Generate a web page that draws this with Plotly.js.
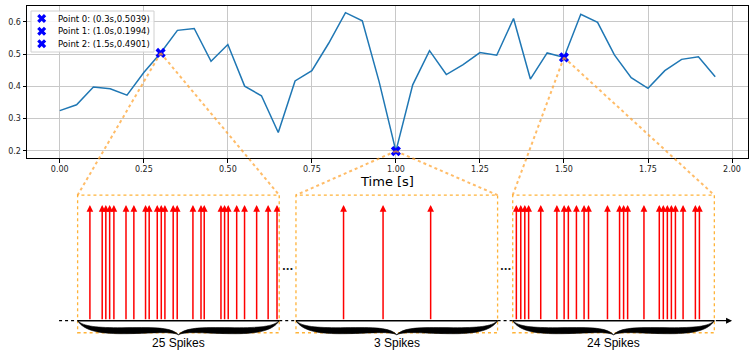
<!DOCTYPE html>
<html>
<head>
<meta charset="utf-8">
<script src="https://cdn.plot.ly/plotly-3.0.1.min.js"></script>
<style>
  html, body { margin: 0; padding: 0; background: white; }
  #chart { width: 753px; height: 356px; }
</style>
</head>
<body>
<div id="chart"></div>
<script>
// signal samples (time in s)
const times = [0.00, 0.05, 0.10, 0.15, 0.20, 0.25, 0.30, 0.35, 0.40, 0.45,
               0.50, 0.55, 0.60, 0.65, 0.70, 0.75, 0.80, 0.85, 0.90, 0.95,
               1.00, 1.05, 1.10, 1.15, 1.20, 1.25, 1.30, 1.35, 1.40, 1.45,
               1.50, 1.55, 1.60, 1.65, 1.70, 1.75, 1.80, 1.85, 1.90, 1.95];
const values = [0.325, 0.343, 0.398, 0.393, 0.373, 0.443, 0.5039, 0.574, 0.580, 0.478,
                0.530, 0.401, 0.371, 0.257, 0.417, 0.449, 0.534, 0.629, 0.604, 0.415,
                0.1994, 0.405, 0.511, 0.437, 0.468, 0.505, 0.497, 0.611, 0.423, 0.504,
                0.4901, 0.624, 0.599, 0.498, 0.427, 0.394, 0.449, 0.484, 0.492, 0.430];

// highlighted points
const pointTimes = [0.3, 1.0, 1.5];
const pointValues = [0.5039, 0.1994, 0.4901];

// spike trains in each window (ms within a 100 ms window)
const spikes0 = [6.1, 12.2, 14.0, 15.9, 18.0, 24.0, 27.9, 33.7, 35.5, 39.5, 41.5, 43.3, 47.4,
                 49.4, 57.2, 61.2, 62.8, 71.1, 72.9, 74.7, 78.9, 82.8, 88.8, 94.5, 98.9];
const spikes1 = [23.6, 43.2, 66.8];
const spikes2 = [1.8, 4.0, 6.0, 7.9, 13.9, 21.9, 25.5, 27.6, 31.6, 35.4, 37.6, 47.0,
                 53.0, 55.0, 57.0, 65.1, 72.7, 74.7, 76.7, 78.7, 80.7, 84.5, 90.6, 92.6];
const spikeTrains = [spikes0, spikes1, spikes2];
const braceLabels = ['25 Spikes', '3 Spikes', '24 Spikes'];

// layout of the zoomed windows on the lower axis
const windowStarts = [0, 108.3, 215.8];
const windowWidth = 100;

const FONT = 'DejaVu Sans, sans-serif';
const xRange = [-0.0975, 2.0475];
const yRange = [0.178, 0.6496];
const x2Range = [-25.1, 332.5];
const y2Range = [-0.305, 1.406];
const topDomain = [0.5657, 1];
const botDomain = [0, 0.5657];
const PXY = 115.7; // pixels per unit on lower y axis

function toPaperX(v, r) { return (v - r[0]) / (r[1] - r[0]); }
function toPaperY(v, r, d) { return d[0] + (v - r[0]) / (r[1] - r[0]) * (d[1] - d[0]); }
// pixel offsets inside the top plot area -> top axis data units
function pxToX(p) { return xRange[0] + p / 721 * (xRange[1] - xRange[0]); }
function pxToY(p) { return yRange[1] - p / 152 * (yRange[1] - yRange[0]); }

const boxTop = 1.085, boxBottom = -0.104;
const orange = '#ffb338';

let shapes = [];
let annotations = [];

// spikes as arrows
spikeTrains.forEach((train, w) => {
  train.forEach(t => {
    const xv = windowStarts[w] + t;
    annotations.push({
      x: xv, y: 1, ax: xv, ay: 0,
      xref: 'x2', yref: 'y2', axref: 'x2', ayref: 'y2',
      text: '', showarrow: true, arrowhead: 2, arrowsize: 0.9,
      arrowwidth: 1.5, arrowcolor: '#ff0000', standoff: 0, startstandoff: 0
    });
  });
});

// curly brace as a filled path
function bracePath(x0, x1) {
  const w = x1 - x0;
  const P = (f, d) => (x0 + f * w).toFixed(3) + ',' + (-d / PXY).toFixed(4);
  return 'M' + P(0, 0) +
    ' C' + P(0.03, 6) + ' ' + P(0.1, 7) + ' ' + P(0.22, 7) +
    ' C' + P(0.36, 7) + ' ' + P(0.46, 5.5) + ' ' + P(0.5, 14) +
    ' C' + P(0.54, 5.5) + ' ' + P(0.64, 7) + ' ' + P(0.78, 7) +
    ' C' + P(0.9, 7) + ' ' + P(0.97, 6) + ' ' + P(1, 0) +
    ' C' + P(0.97, 9.5) + ' ' + P(0.9, 13) + ' ' + P(0.78, 13) +
    ' C' + P(0.64, 13) + ' ' + P(0.54, 10) + ' ' + P(0.5, 14) +
    ' C' + P(0.46, 10) + ' ' + P(0.36, 13) + ' ' + P(0.22, 13) +
    ' C' + P(0.1, 13) + ' ' + P(0.03, 9.5) + ' ' + P(0, 0) + ' Z';
}

windowStarts.forEach((s, w) => {
  const e = s + windowWidth;
  shapes.push({
    type: 'rect', xref: 'x2', yref: 'y2', x0: s, x1: e, y0: boxBottom, y1: boxTop,
    line: { color: orange, width: 1.3, dash: 'dot' }, fillcolor: 'rgba(0,0,0,0)'
  });
  shapes.push({
    type: 'line', xref: 'x2', yref: 'y2', x0: s, x1: e, y0: 0, y1: 0,
    line: { color: '#000', width: 1.5 }
  });
  shapes.push({
    type: 'path', xref: 'x2', yref: 'y2', path: bracePath(s, e),
    fillcolor: '#000', line: { color: '#000', width: 0.6 }
  });
  annotations.push({
    x: s + windowWidth / 2, y: -0.19, xref: 'x2', yref: 'y2',
    text: braceLabels[w], showarrow: false,
    font: { family: 'Liberation Sans, Arial, sans-serif', size: 12, color: '#000' }
  });
  // connector lines from the highlighted point to the window corners
  const px = toPaperX(pointTimes[w], xRange);
  const py = toPaperY(pointValues[w], yRange, topDomain);
  const by = toPaperY(boxTop, y2Range, botDomain);
  [s, e].forEach(cx => {
    shapes.push({
      type: 'line', xref: 'paper', yref: 'paper',
      x0: px, y0: py, x1: toPaperX(cx, x2Range), y1: by,
      line: { color: 'rgba(255,160,40,0.7)', width: 2, dash: 'dot' }
    });
  });
});

// dotted baseline gaps
const gaps = [[-9.2, windowStarts[0]],
              [windowStarts[0] + windowWidth, windowStarts[1]],
              [windowStarts[1] + windowWidth, windowStarts[2]]];
gaps.forEach(g => {
  shapes.push({
    type: 'line', xref: 'x2', yref: 'y2', x0: g[0], x1: g[1], y0: 0, y1: 0,
    line: { color: '#000', width: 1.2, dash: 'dot' }
  });
  if (g[0] > 0) {
    annotations.push({
      x: (g[0] + g[1]) / 2, y: 0.44, xref: 'x2', yref: 'y2', text: '<b>···</b>',
      showarrow: false, font: { family: FONT, size: 10, color: '#222' }
    });
  }
});

// time arrow on the right
annotations.push({
  x: 324.6, y: 0, ax: windowStarts[2] + windowWidth, ay: 0,
  xref: 'x2', yref: 'y2', axref: 'x2', ayref: 'y2',
  text: '', showarrow: true, arrowhead: 2, arrowsize: 1,
  arrowwidth: 1.2, arrowcolor: '#000', standoff: 0
});

// legend (drawn by hand for compact spacing)
const legendNames = pointTimes.map((t, i) =>
  'Point ' + i + ': (' + t.toFixed(1) + 's,' + pointValues[i].toFixed(4) + ')');
const legendRowY = [12.5, 25.2, 37.7];
shapes.push({
  type: 'rect', xref: 'x', yref: 'y', layer: 'between',
  x0: pxToX(4), x1: pxToX(127), y0: pxToY(46), y1: pxToY(5),
  fillcolor: 'rgba(255,255,255,0.85)', line: { color: '#d0d0d0', width: 1 }
});
legendNames.forEach((n, i) => {
  annotations.push({
    x: 29, y: legendRowY[i], xref: 'x3', yref: 'y3', xanchor: 'left',
    text: n, showarrow: false,
    font: { family: FONT, size: 8.5, color: '#000' }
  });
});

const traces = [
  {
    x: times, y: values, type: 'scatter', mode: 'lines',
    line: { color: '#1f77b4', width: 1.5 }, showlegend: false,
    xaxis: 'x', yaxis: 'y', hoverinfo: 'skip'
  },
  {
    x: pointTimes, y: pointValues, type: 'scatter', mode: 'markers',
    marker: { symbol: 'x', size: 9, color: '#0000ff' }, showlegend: false,
    xaxis: 'x', yaxis: 'y'
  },
  {
    x: legendRowY.map(() => 14.7), y: legendRowY, type: 'scatter', mode: 'markers',
    marker: { symbol: 'x', size: 8, color: '#0000ff' }, showlegend: false,
    xaxis: 'x3', yaxis: 'y3', hoverinfo: 'skip'
  },
  {
    x: [0], y: [0], type: 'scatter', mode: 'markers', marker: { opacity: 0 },
    showlegend: false, xaxis: 'x2', yaxis: 'y2', hoverinfo: 'skip'
  }
];

const layout = {
  width: 753, height: 356,
  margin: { l: 27, r: 5, t: 6, b: 0 },
  paper_bgcolor: 'white', plot_bgcolor: 'rgba(0,0,0,0)',
  font: { family: FONT, size: 8, color: '#222' },
  showlegend: false,
  xaxis: {
    domain: [0, 1], anchor: 'y', range: xRange,
    tickvals: [0, 0.25, 0.5, 0.75, 1.0, 1.25, 1.5, 1.75, 2.0], tickformat: '.2f',
    showgrid: true, gridcolor: '#c8c8c8', gridwidth: 1, zeroline: false,
    showline: true, linecolor: '#000', linewidth: 1, mirror: true,
    ticks: 'outside', ticklen: 3.5, tickcolor: '#000',
    tickfont: { family: FONT, size: 8, color: '#222' },
    title: { text: 'Time [s]', font: { family: FONT, size: 13, color: '#000' }, standoff: 3 }
  },
  yaxis: {
    domain: topDomain, anchor: 'x', range: yRange,
    tickvals: [0.2, 0.3, 0.4, 0.5, 0.6], tickformat: '.1f',
    showgrid: true, gridcolor: '#c8c8c8', gridwidth: 1, zeroline: false,
    showline: true, linecolor: '#000', linewidth: 1, mirror: true,
    ticks: 'outside', ticklen: 3.5, tickcolor: '#000',
    tickfont: { family: FONT, size: 8, color: '#222' }
  },
  xaxis2: {
    domain: [0, 1], anchor: 'y2', range: x2Range, visible: false, fixedrange: true
  },
  yaxis2: {
    domain: botDomain, anchor: 'x2', range: y2Range, visible: false, fixedrange: true
  },
  xaxis3: { overlaying: 'x', anchor: 'y3', range: [0, 721], visible: false, fixedrange: true },
  yaxis3: { overlaying: 'y', anchor: 'x3', range: [152, 0], visible: false, fixedrange: true },
  shapes: shapes,
  annotations: annotations
};

Plotly.newPlot('chart', traces, layout, { displayModeBar: false, staticPlot: true });
</script>
</body>
</html>
